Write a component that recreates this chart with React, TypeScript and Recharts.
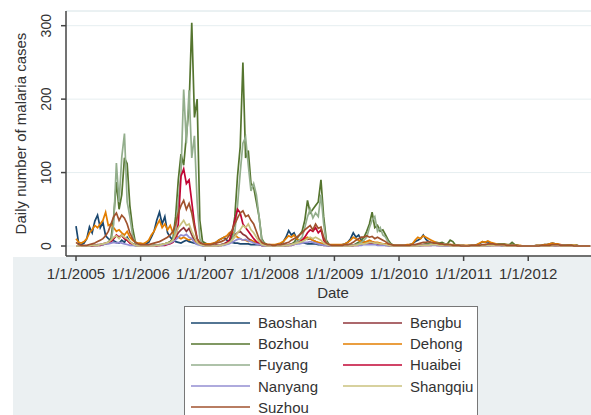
import React from 'react';
import { LineChart, Line, XAxis, YAxis, CartesianGrid, ReferenceLine } from 'recharts';

// Semi-monthly readings (1st and 16th of each month), Jan 2005 - Dec 2012, one row per year
const baoshan = [
  27,3,2,4,10,26,18,34,42,25,32,14,10,8,7,5,4,8,5,12,6,3,2,1,
  2,2,3,5,12,20,35,46,30,40,18,12,8,6,5,4,6,8,6,5,4,3,2,1,
  1,1,2,3,5,8,10,12,8,6,5,4,4,3,3,3,3,2,2,2,2,1,1,1,
  1,1,1,2,3,6,12,21,15,18,10,6,5,4,3,3,3,3,2,2,2,1,1,1,
  1,1,1,2,3,5,10,18,12,15,8,5,4,3,3,3,2,2,2,2,1,1,1,1,
  1,1,1,1,2,3,6,8,10,15,9,6,4,3,2,2,2,2,2,1,1,1,1,1,
  1,0,1,1,1,2,3,6,5,6,4,3,2,2,1,1,1,1,1,1,1,0,0,0,
  0,0,0,1,1,1,2,2,3,4,3,2,1,1,1,1,1,0,1,0,0,0,0,0,
];
const bengbu = [
  0,0,0,0,0,0,1,1,2,2,3,4,5,8,10,14,12,15,10,8,5,3,1,1,
  0,0,0,0,0,1,1,1,2,3,4,5,8,12,18,22,25,20,24,15,8,4,2,1,
  0,0,0,0,1,1,2,3,5,8,12,15,18,20,16,14,10,8,5,3,2,1,1,0,
  0,0,0,0,0,1,1,2,3,4,5,6,8,10,9,10,8,6,4,2,1,1,0,0,
  0,0,0,0,0,1,1,1,2,3,4,5,6,5,5,4,3,2,2,1,1,0,0,0,
  0,0,0,0,0,0,1,1,1,2,2,2,3,2,2,2,1,1,1,1,0,0,0,0,
  0,0,0,0,0,0,0,1,1,1,1,2,2,2,1,1,1,1,0,0,0,0,0,0,
  0,0,0,0,0,0,0,0,1,1,1,1,1,1,1,0,0,0,0,0,0,0,0,0,
];
const bozhou = [
  0,0,0,0,0,0,1,1,1,2,2,3,5,10,40,87,50,70,120,112,55,25,6,2,
  1,0,0,0,1,1,1,2,2,3,4,6,10,40,90,125,110,150,190,304,175,200,35,6,
  4,2,1,1,1,1,2,2,3,5,15,40,95,135,250,120,130,85,80,60,40,10,4,2,
  1,1,0,0,0,1,1,1,2,5,10,15,20,35,62,45,50,55,60,90,40,8,2,1,
  0,0,0,0,0,1,1,1,3,5,8,12,20,30,46,25,28,20,22,15,8,3,1,0,
  0,0,0,0,0,0,1,1,1,2,3,3,4,5,5,4,5,3,3,8,6,1,0,0,
  0,0,0,0,0,0,0,1,1,1,2,2,2,3,3,3,2,2,5,2,1,0,0,0,
  0,0,0,0,0,0,0,0,0,1,1,1,1,1,1,1,1,1,1,0,0,0,0,0,
];
const dehong = [
  10,5,4,6,10,18,22,28,25,30,35,46,28,30,25,20,22,18,15,20,12,8,5,4,
  4,3,5,8,15,20,28,35,25,30,22,28,18,15,12,10,12,10,8,10,6,5,4,3,
  3,3,3,4,5,8,10,12,14,18,20,15,12,10,8,8,6,8,6,5,4,3,3,2,
  2,2,2,3,4,6,10,14,12,15,10,8,8,10,12,10,8,6,5,4,3,2,2,2,
  2,2,2,2,3,5,8,12,10,8,6,5,6,8,6,5,5,4,3,3,2,2,1,1,
  1,1,1,2,2,3,8,12,10,14,12,10,8,6,4,3,3,3,2,2,2,1,1,1,
  1,1,1,1,1,2,4,6,5,7,5,4,3,2,2,2,2,1,1,1,1,1,0,0,
  0,0,0,1,1,1,2,2,3,4,3,3,2,1,1,1,1,1,1,0,0,0,0,0,
];
const fuyang = [
  0,0,0,0,0,0,0,1,1,1,2,3,4,5,30,113,60,121,153,60,40,15,4,1,
  1,0,0,0,0,1,1,1,2,3,4,5,8,20,60,100,213,140,212,120,150,60,10,3,
  1,1,0,0,1,1,1,2,3,4,8,20,55,100,140,148,110,75,85,70,40,8,2,1,
  0,0,0,0,0,0,1,1,2,3,5,8,12,25,40,50,38,45,40,70,30,5,1,0,
  0,0,0,0,0,0,1,1,2,3,5,8,12,25,35,40,20,25,15,12,5,2,0,0,
  0,0,0,0,0,0,0,1,1,1,2,2,3,3,4,3,3,3,2,2,1,1,0,0,
  0,0,0,0,0,0,0,0,1,1,1,1,2,2,2,2,1,1,1,1,0,0,0,0,
  0,0,0,0,0,0,0,0,0,0,1,1,1,1,1,0,0,0,0,0,0,0,0,0,
];
const huaibei = [
  0,0,0,0,0,0,0,1,1,1,2,3,4,6,10,15,12,14,10,8,4,2,1,0,
  0,0,0,0,0,0,0,1,1,1,2,3,5,10,30,95,105,85,90,60,30,10,3,1,
  0,0,0,0,1,1,1,2,4,8,20,35,50,45,30,25,20,15,10,6,3,1,1,0,
  0,0,0,0,0,0,1,1,1,2,3,5,8,12,18,22,20,25,18,22,8,2,1,0,
  0,0,0,0,0,0,0,1,1,1,2,3,3,4,5,4,3,3,2,2,1,0,0,0,
  0,0,0,0,0,0,0,0,1,1,1,1,1,2,1,1,1,1,1,0,0,0,0,0,
  0,0,0,0,0,0,0,0,0,1,1,1,1,1,1,0,0,0,0,0,0,0,0,0,
  0,0,0,0,0,0,0,0,0,0,0,1,1,0,0,0,0,0,0,0,0,0,0,0,
];
const nanyang = [
  0,0,0,0,0,0,1,1,1,2,2,3,3,4,5,4,5,4,3,2,1,1,0,0,
  0,0,0,0,0,0,1,1,1,2,3,4,6,8,12,15,14,16,12,10,5,2,1,0,
  0,0,0,0,0,1,1,1,2,3,5,7,9,10,8,9,7,6,4,3,2,1,0,0,
  0,0,0,0,0,0,1,1,1,2,3,3,4,5,5,6,5,4,3,2,1,1,0,0,
  0,0,0,0,0,0,0,1,1,1,1,2,2,2,2,2,1,1,1,1,0,0,0,0,
  0,0,0,0,0,0,0,0,0,1,1,1,1,1,1,0,0,0,0,0,0,0,0,0,
  0,0,0,0,0,0,0,0,0,0,1,1,1,1,0,0,0,0,0,0,0,0,0,0,
  0,0,0,0,0,0,0,0,0,0,0,1,1,0,0,0,0,0,0,0,0,0,0,0,
];
const shangqiu = [
  0,0,0,0,0,0,1,1,1,2,3,4,5,8,12,14,10,15,12,10,6,3,1,0,
  0,0,0,0,0,0,1,1,2,3,4,5,8,15,25,30,35,28,30,20,12,5,2,1,
  0,0,0,0,0,1,1,2,3,5,8,12,18,22,28,25,30,22,18,12,6,2,1,0,
  0,0,0,0,0,0,1,1,2,3,4,5,6,8,10,12,10,12,10,8,4,2,1,0,
  0,0,0,0,0,0,0,1,1,2,3,3,4,5,5,4,4,3,3,2,1,0,0,0,
  0,0,0,0,0,0,0,0,1,1,1,1,2,2,2,1,1,1,1,0,0,0,0,0,
  0,0,0,0,0,0,0,0,0,1,1,1,1,1,1,0,0,0,0,0,0,0,0,0,
  0,0,0,0,0,0,0,0,0,0,1,1,0,0,0,0,0,0,0,0,0,0,0,0,
];
const suzhou = [
  5,2,1,1,1,2,3,4,6,8,10,14,20,30,40,45,35,42,38,30,18,10,5,3,
  2,2,2,2,3,4,5,6,8,10,12,15,20,30,45,55,62,50,58,45,25,10,5,3,
  2,2,2,3,4,5,6,8,10,15,22,30,38,45,48,40,42,35,30,20,10,5,3,2,
  2,1,1,2,2,3,4,5,8,10,12,15,18,22,25,28,22,30,24,26,12,4,2,1,
  1,1,1,1,2,2,3,5,8,10,12,12,14,12,13,10,12,10,8,6,3,2,1,1,
  1,1,1,1,1,2,2,3,4,5,5,6,5,4,4,3,3,2,2,2,1,1,1,0,
  0,0,0,1,1,1,1,2,2,3,3,3,2,2,2,2,1,1,1,1,0,0,0,0,
  0,0,0,0,0,1,1,1,1,2,2,2,1,1,1,1,1,0,0,0,0,0,0,0,
];

const yearTicks = [0, 1, 2, 3, 4, 5, 6, 7];
const yearLabels = ['1/1/2005', '1/1/2006', '1/1/2007', '1/1/2008', '1/1/2009', '1/1/2010', '1/1/2011', '1/1/2012'];
const caseTicks = [0, 100, 200, 300];

const seriesNames = ['Baoshan', 'Bengbu', 'Bozhou', 'Dehong', 'Fuyang', 'Huaibei', 'Nanyang', 'Shangqiu', 'Suzhou'];
const seriesValues = [baoshan, bengbu, bozhou, dehong, fuyang, huaibei, nanyang, shangqiu, suzhou];
const seriesColors = ['#1a476f', '#90353b', '#55752f', '#e37e00', '#93ae8c', '#c10534', '#938dd2', '#cac27e', '#a0522d'];

const data = baoshan.map((_, i) => {
  const row: Record<string, number> = { t: i / 24 };
  seriesNames.forEach((n, k) => { row[n] = seriesValues[k][i]; });
  return row;
});

const FONT = '"Liberation Sans", Arial, Helvetica, sans-serif';

const YTick = (props: any) => {
  const { y, payload } = props;
  return (
    <text x={51} y={y} transform={`rotate(-90, 51, ${y})`} textAnchor="middle" fontSize={14} fill="#333" fontFamily={FONT}>
      {payload.value}
    </text>
  );
};

export default function App() {
  return (
    <div style={{ position: 'absolute', left: 0, top: 0, width: 591, height: 415, overflow: 'hidden', background: '#fff', fontFamily: FONT }}>
      <div style={{ position: 'absolute', left: 13, top: 257, width: 600, height: 170, background: '#ebf0f2' }} />
      <div style={{ position: 'absolute', left: 0, top: 0 }}>
        <LineChart width={610} height={415} data={data} margin={{ top: 11, right: 10, left: 0, bottom: 0 }}>
          <CartesianGrid horizontal vertical={false} stroke="#e6eef0" />
          <ReferenceLine y={320} stroke="#e2ebee" ifOverflow="extendDomain" />
          <XAxis
            dataKey="t"
            type="number"
            domain={[-0.155, 8.111]}
            allowDataOverflow
            ticks={yearTicks}
            tickFormatter={(v: number) => yearLabels[v]}
            height={159}
            tickSize={5}
            tickMargin={7}
            interval={0}
            stroke="#444"
            axisLine={{ stroke: '#444', strokeWidth: 1.5 }}
            tickLine={{ stroke: '#444', strokeWidth: 1.5 }}
            tick={{ fontSize: 15, fill: '#333', fontFamily: FONT }}
          />
          <YAxis
            type="number"
            domain={[-13.6, 320]}
            allowDataOverflow
            ticks={caseTicks}
            width={66}
            tickSize={5}
            interval={0}
            axisLine={{ stroke: '#444', strokeWidth: 1.5 }}
            tickLine={{ stroke: '#444', strokeWidth: 1.5 }}
            tick={<YTick />}
          />
          {seriesNames.map((n, k) => (
            <Line
              key={n}
              dataKey={n}
              type="linear"
              stroke={seriesColors[k]}
              strokeWidth={1.7}
              dot={false}
              activeDot={false}
              isAnimationActive={false}
            />
          ))}
        </LineChart>
      </div>
      <div style={{ position: 'absolute', left: 0, top: 0, pointerEvents: 'none' }}>
        <svg width={591} height={415} style={{ position: 'absolute', left: 0, top: 0 }}>
          <text x={25.5} y={133.5} transform="rotate(-90, 25.5, 133.5)" textAnchor="middle" fontSize={15} fill="#333" fontFamily={FONT}>
            Daily number of malaria cases
          </text>
          <text x={333} y={298} textAnchor="middle" fontSize={15} fill="#333" fontFamily={FONT}>Date</text>
        </svg>
      </div>
      <div style={{ position: 'absolute', left: 184, top: 306, width: 294, height: 130, background: '#fff', border: '1px solid #777', boxSizing: 'border-box' }}>
        {seriesNames.map((n, k) => {
          const col = k % 2;
          const row = Math.floor(k / 2);
          return (
            <div key={n} style={{ position: 'absolute', left: col === 0 ? 6 : 158, top: 5 + row * 21.2, height: 21, display: 'flex', alignItems: 'center' }}>
              <div style={{ width: 59, height: 2, background: seriesColors[k], opacity: 0.75 }} />
              <span style={{ marginLeft: 8, fontSize: 15, color: '#333', fontFamily: FONT, lineHeight: '21px' }}>{n}</span>
            </div>
          );
        })}
      </div>
    </div>
  );
}
